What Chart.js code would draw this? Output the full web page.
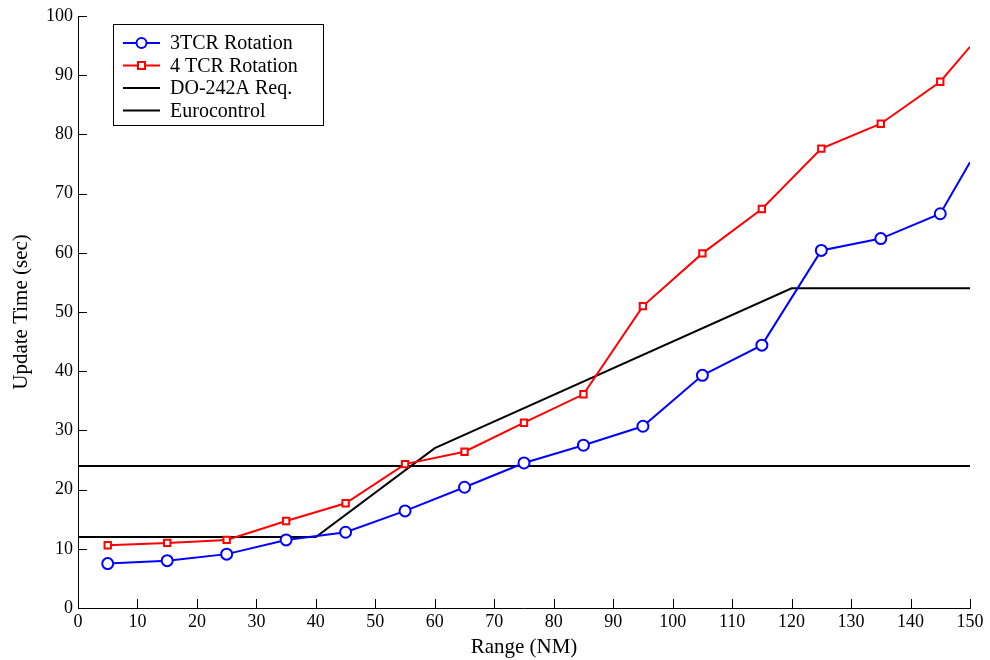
<!DOCTYPE html>
<html>
<head>
<meta charset="utf-8">
<script src="https://cdn.jsdelivr.net/npm/chart.js@4/dist/chart.umd.min.js"></script>
<style>
  html, body { margin: 0; padding: 0; background: #fff; }
  #wrap { width: 990px; height: 660px; position: relative; }
</style>
</head>
<body>
<div id="wrap"><canvas id="c" width="990" height="660"></canvas></div>
<script>
// ---- data ----
const rangeNM = [5, 15, 25, 35, 45, 55, 65, 75, 85, 95, 105, 115, 125, 135, 145, 150];
const tcr3Rotation = [7.5, 8.0, 9.1, 11.5, 12.8, 16.4, 20.4, 24.5, 27.5, 30.7, 39.3, 44.4, 60.4, 62.4, 66.6, 75.3];
const tcr4Rotation = [10.6, 11.0, 11.5, 14.7, 17.7, 24.3, 26.4, 31.3, 36.1, 51.0, 59.9, 67.4, 77.6, 81.8, 88.9, 94.8];
const do242aRange = [0, 40, 60, 120, 150];
const do242aReq = [12, 12, 27, 54, 54];
const euroRange = [0, 150];
const euroReq = [24, 24];
const seriesLabels = ['3TCR Rotation', '4 TCR Rotation', 'DO-242A Req.', 'Eurocontrol'];
const xTicks = [0, 10, 20, 30, 40, 50, 60, 70, 80, 90, 100, 110, 120, 130, 140, 150];
const yTicks = [0, 10, 20, 30, 40, 50, 60, 70, 80, 90, 100];

const FONT = '"Liberation Serif", "Times New Roman", serif';
const pts = (xs, ys) => xs.map((x, i) => ({ x: x, y: ys[i] }));
// markers on measured points only (last point is the line running off the axes)
const markerRadius = (xs, r) => xs.map(x => (x <= 145 ? r : 0));

const innerTicks = {
  id: 'innerTicks',
  afterDatasetsDraw(chart) {
    const { ctx, scales: { x, y } } = chart;
    ctx.save();
    ctx.strokeStyle = '#000';
    ctx.lineWidth = 1;
    const L = 9;
    xTicks.forEach(v => {
      const px = Math.round(x.getPixelForValue(v)) + 0.5;
      ctx.beginPath();
      ctx.moveTo(px, y.bottom);
      ctx.lineTo(px, y.bottom - L);
      ctx.stroke();
    });
    yTicks.forEach(v => {
      const py = Math.round(y.getPixelForValue(v)) + 0.5;
      ctx.beginPath();
      ctx.moveTo(x.left, py);
      ctx.lineTo(x.left + L, py);
      ctx.stroke();
    });
    ctx.restore();
  }
};

const boxLegend = {
  id: 'boxLegend',
  afterDraw(chart) {
    const { ctx } = chart;
    const bx = 113, by = 24, bw = 210, bh = 101;
    ctx.save();
    ctx.fillStyle = '#fff';
    ctx.fillRect(bx, by, bw, bh);
    ctx.strokeStyle = '#000';
    ctx.lineWidth = 1;
    ctx.strokeRect(bx + 0.5, by + 0.5, bw, bh);
    ctx.font = '20px ' + FONT;
    ctx.textBaseline = 'middle';
    ctx.fillStyle = '#000';
    chart.data.datasets.forEach((ds, i) => {
      const cy = by + 19 + i * 22.5;
      const x1 = 123, x2 = 160, xm = (x1 + x2) / 2;
      ctx.strokeStyle = ds.borderColor;
      ctx.lineWidth = 2;
      ctx.beginPath();
      ctx.moveTo(x1, cy);
      ctx.lineTo(x2, cy);
      ctx.stroke();
      if (ds.pointStyle === 'circle') {
        ctx.fillStyle = '#fff';
        ctx.beginPath();
        ctx.arc(xm, cy, 5, 0, Math.PI * 2);
        ctx.fill();
        ctx.stroke();
      } else if (ds.pointStyle === 'rect') {
        ctx.fillStyle = '#fff';
        ctx.fillRect(xm - 3.5, cy - 3.5, 7, 7);
        ctx.strokeRect(xm - 3.5, cy - 3.5, 7, 7);
      }
      ctx.fillStyle = '#000';
      ctx.fillText(ds.label, 170, cy + 1);
    });
    ctx.restore();
  }
};

new Chart(document.getElementById('c'), {
  type: 'line',
  data: {
    datasets: [
      {
        label: seriesLabels[0],
        data: pts(rangeNM, tcr3Rotation),
        borderColor: '#0000ff',
        backgroundColor: '#ffffff',
        borderWidth: 2,
        pointStyle: 'circle',
        pointRadius: markerRadius(rangeNM, 5.5),
        pointBorderWidth: 2,
        pointBorderColor: '#0000ff',
        pointBackgroundColor: '#ffffff',
        tension: 0
      },
      {
        label: seriesLabels[1],
        data: pts(rangeNM, tcr4Rotation),
        borderColor: '#ff0000',
        backgroundColor: '#ffffff',
        borderWidth: 2,
        pointStyle: 'rect',
        pointRadius: markerRadius(rangeNM, 4.5),
        pointBorderWidth: 2,
        pointBorderColor: '#ff0000',
        pointBackgroundColor: '#ffffff',
        tension: 0
      },
      {
        label: seriesLabels[2],
        data: pts(do242aRange, do242aReq),
        borderColor: '#000000',
        borderWidth: 2,
        pointRadius: 0,
        pointStyle: false,
        tension: 0
      },
      {
        label: seriesLabels[3],
        data: pts(euroRange, euroReq),
        borderColor: '#000000',
        borderWidth: 2,
        pointRadius: 0,
        pointStyle: false,
        tension: 0
      }
    ]
  },
  options: {
    responsive: false,
    animation: false,
    layout: { padding: { left: 0, right: 20, top: 16, bottom: 0 } },
    plugins: { legend: { display: false }, tooltip: { enabled: false } },
    scales: {
      x: {
        type: 'linear',
        min: 0, max: 150,
        afterFit(s) { s.height = 52; },
        afterBuildTicks(s) { s.ticks = xTicks.map(v => ({ value: v })); },
        grid: { display: false, drawTicks: false },
        border: { display: true, color: '#000', width: 1 },
        ticks: { color: '#000', padding: 3, maxRotation: 0, autoSkip: false, font: { family: FONT, size: 18 } },
        title: { display: true, text: 'Range (NM)', color: '#000', padding: { top: 0, bottom: 0 }, font: { family: FONT, size: 21 } }
      },
      y: {
        type: 'linear',
        min: 0, max: 100,
        afterFit(s) { s.width = 78; },
        afterBuildTicks(s) { s.ticks = yTicks.map(v => ({ value: v })); },
        grid: { display: false, drawTicks: false },
        border: { display: true, color: '#000', width: 1 },
        ticks: { color: '#000', padding: 5, autoSkip: false, font: { family: FONT, size: 18 } },
        title: { display: true, text: 'Update Time (sec)', color: '#000', padding: { top: 9, bottom: 0 }, font: { family: FONT, size: 21 } }
      }
    }
  },
  plugins: [innerTicks, boxLegend]
});
</script>
</body>
</html>
